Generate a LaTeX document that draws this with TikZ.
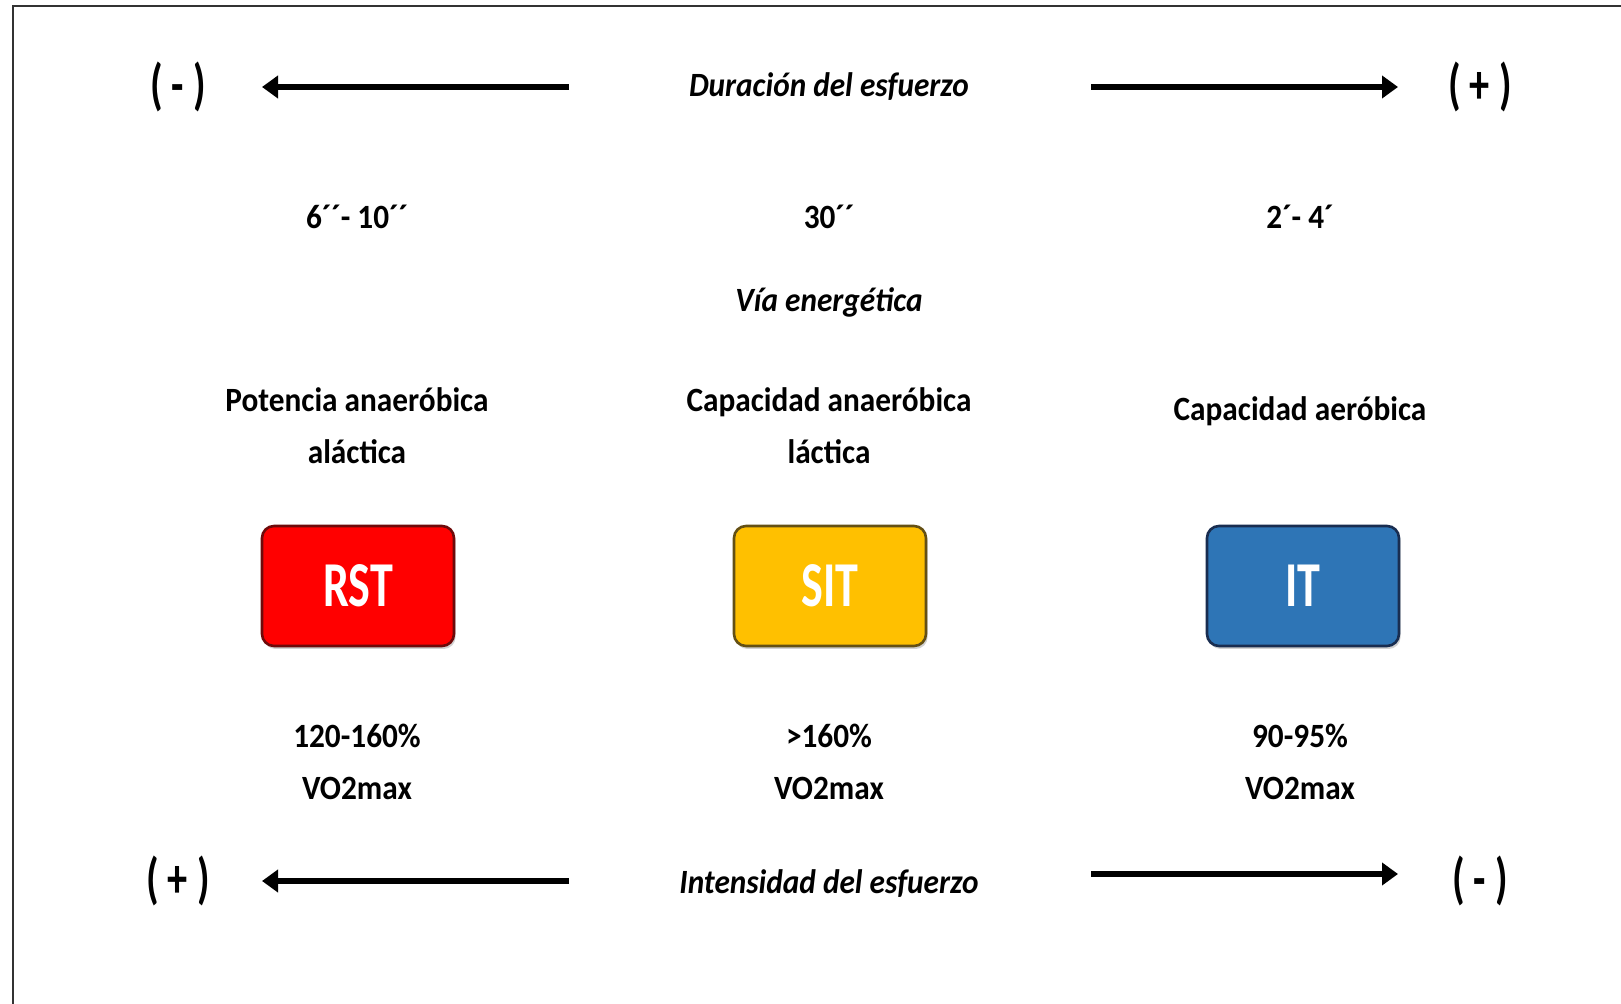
\documentclass[tikz,border=0pt]{standalone}
\usepackage{fontspec}
\setmainfont{Carlito}[FakeStretch=0.92]
\newfontfamily\boxfont{Carlito}[FakeStretch=0.72]
\usetikzlibrary{arrows.meta,shadows}
\definecolor{rstred}{RGB}{255,0,0}
\definecolor{rstedge}{RGB}{110,10,10}
\definecolor{sitgold}{RGB}{255,192,0}
\definecolor{sitedge}{RGB}{100,80,20}
\definecolor{itblue}{RGB}{46,117,182}
\definecolor{itedge}{RGB}{25,45,80}
\tikzset{
  lbl/.style={font=\bfseries\fontsize{17}{21}\selectfont, align=center, inner sep=0pt},
  ital/.style={font=\bfseries\itshape\fontsize{17}{21}\selectfont, inner sep=0pt},
  sign/.style={font=\boxfont\bfseries\fontsize{28}{32}\selectfont, inner sep=0pt},
  two/.style={font=\bfseries\fontsize{17}{26}\selectfont, align=center, inner sep=0pt},
  tbox/.style={rounded corners=6pt, line width=1.3pt, minimum width=96pt, minimum height=60pt,
     inner sep=0pt, text=white, font=\boxfont\bfseries\fontsize{32}{36}\selectfont,
     drop shadow={shadow xshift=0.8pt, shadow yshift=-1.5pt, opacity=0.35}},
  arr/.style={line width=3pt, -{Triangle[length=8pt,width=11pt]}},
}
\begin{document}
\begin{tikzpicture}[x=0.5pt,y=-0.5pt]
\useasboundingbox (0,0) rectangle (1621,1004);
\fill[white] (0,0) rectangle (1621,1004);
\draw[line width=1.4pt, black!80] (13,1004) -- (13,6) -- (1621,6);
% top row
\node[sign] (tm) at (178,87) {( - )};
\node[sign] (tp) at (1480,87) {( + )};
\node[ital] (dur) at (829,87) {Duración del esfuerzo};
\coordinate (la1) at (569,87); \coordinate (la2) at (262,87);
\coordinate (ra1) at (1091,87); \coordinate (ra2) at (1398,87);
\draw[arr] (la1) -- (la2);
\draw[arr] (ra1) -- (ra2);
% times
\node[lbl] (t1) at (357,217) {6´´- 10´´};
\node[lbl] (t2) at (829,217) {30´´};
\node[lbl] (t3) at (1300,217) {2´- 4´};
\node[ital] (via) at (829,302) {Vía energética};
% descriptions
\node[two] (d1) at (357,426) {Potencia anaeróbica\\aláctica};
\node[two] (d2) at (829,426) {Capacidad anaeróbica\\láctica};
\node[lbl] (d3) at (1300,411) {Capacidad aeróbica};
% boxes
\node[tbox, fill=rstred, draw=rstedge] (rst) at (358,586) {RST};
\node[tbox, fill=sitgold, draw=sitedge] (sit) at (830,586) {SIT};
\node[tbox, fill=itblue, draw=itedge] (it) at (1303,586) {IT};
% percentages
\node[two] (p1) at (357,762) {120-160\%\\VO2max};
\node[two] (p2) at (829,762) {>160\%\\VO2max};
\node[two] (p3) at (1300,762) {90-95\%\\VO2max};
% bottom row
\node[sign] (bp) at (178,881) {( + )};
\node[sign] (bm) at (1480,881) {( - )};
\node[ital] (int) at (829,884) {Intensidad del esfuerzo};
\coordinate (lb1) at (569,881); \coordinate (lb2) at (262,881);
\coordinate (rb1) at (1091,874); \coordinate (rb2) at (1398,874);
\draw[arr] (lb1) -- (lb2);
\draw[arr] (rb1) -- (rb2);
\end{tikzpicture}
\end{document}
